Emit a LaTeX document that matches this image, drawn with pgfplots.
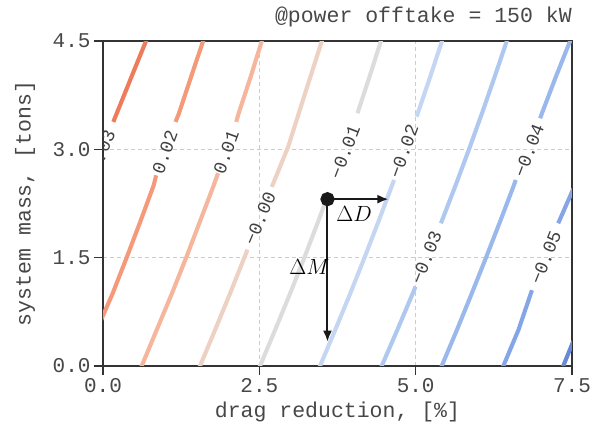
\documentclass[border=0pt]{standalone}
\usepackage{fix-cm}
\usepackage[no-math]{fontspec}
\setmainfont{Liberation Mono}
\usepackage{pgfplots}
\pgfplotsset{compat=1.18}
\usetikzlibrary{arrows.meta}

% contour colours (coolwarm, light)
\definecolor{cpA}{HTML}{EE7B5A}  % 0.03
\definecolor{cpB}{HTML}{F49A7B}  % 0.02
\definecolor{cpC}{HTML}{F5B69D}  % 0.01
\definecolor{cpD}{HTML}{EDD1C3}  % 0.00
\definecolor{cmA}{HTML}{DCDCDC}  % -0.01
\definecolor{cmB}{HTML}{C5D6F2}  % -0.02
\definecolor{cmC}{HTML}{AFC8F0}  % -0.03
\definecolor{cmD}{HTML}{9BB8EC}  % -0.04
\definecolor{cmE}{HTML}{86A5E6}  % -0.05
\definecolor{cmF}{HTML}{6A88D6}  % -0.06

\newcommand{\clab}{\fontsize{18.5}{20}\selectfont}

\begin{document}
\begin{tikzpicture}
\begin{axis}[
  scale only axis, width=469pt, height=325pt,
  xmin=0, xmax=7.5, ymin=0, ymax=4.5,
  xtick={0,2.5,5,7.5}, ytick={0,1.5,3,4.5},
  xtick pos=bottom, ytick pos=left,
  tick align=outside, major tick length=9pt,
  /pgf/number format/fixed, /pgf/number format/fixed zerofill,
  /pgf/number format/precision=1,
  /pgf/number format/assume math mode=true,
  tick label style={font=\fontsize{21}{24}\selectfont, text=black!72},
  label style={font=\fontsize{21.5}{25}\selectfont, text=black!72},
  xlabel={drag reduction, [\%]},
  ylabel={system mass, [tons]},
  xlabel style={at={(axis description cs:0.5,-0.142)}, anchor=center},
  ylabel style={at={(axis description cs:-0.166,0.5)}, anchor=center},
  grid=major,
  grid style={black!20, line width=1pt, dash pattern=on 4pt off 3pt},
  axis line style={black!80, line width=1.5pt},
  tick style={black!80, line width=1.5pt},
  every axis plot/.append style={line width=4.1pt},
]

% 0.03
\addplot[cpA] coordinates {(0.165,3.38) (0.43,3.95) (0.735,4.6)};
% 0.02
\addplot[cpB] coordinates {(-0.10,0.50) (0.152,1.0) (0.378,1.5) (0.597,2.0) (0.81,2.5) (0.85,2.64)};
\addplot[cpB] coordinates {(1.16,3.38) (1.215,3.5) (1.407,4.0) (1.64,4.6)};
% 0.01
\addplot[cpC] coordinates {(0.57,-0.1) (0.619,0) (0.859,0.5) (1.10,1.0) (1.33,1.5) (1.55,2.0) (1.77,2.5) (1.84,2.67)};
\addplot[cpC] coordinates {(2.13,3.38) (2.17,3.5) (2.36,4.0) (2.54,4.5) (2.575,4.6)};
% 0.00
\addplot[cpD] coordinates {(1.50,-0.1) (1.551,0) (1.793,0.5) (2.03,1.0) (2.26,1.5) (2.31,1.61)};
\addplot[cpD] coordinates {(2.70,2.48) (2.963,3.04) (3.23,3.77) (3.50,4.5) (3.535,4.6)};
% -0.01
\addplot[cmA] coordinates {(2.46,-0.1) (2.511,0) (2.753,0.5) (2.99,1.0) (3.22,1.5) (3.44,2.0) (3.57,2.3)};
\addplot[cmA] coordinates {(4.07,3.5) (4.26,4.0) (4.445,4.5) (4.48,4.6)};
% -0.02
\addplot[cmB] coordinates {(3.42,-0.1) (3.47,0) (3.714,0.5) (3.952,1.0) (4.182,1.5) (4.405,2.0) (4.622,2.5) (4.654,2.576)};
\addplot[cmB] coordinates {(5.016,3.453) (5.231,4.0) (5.421,4.5) (5.46,4.6)};
% -0.03
\addplot[cmC] coordinates {(4.40,-0.1) (4.457,0) (4.707,0.5) (4.951,1.0) (4.997,1.098)};
\addplot[cmC] coordinates {(5.404,1.976) (5.638,2.5) (5.853,3.0) (6.061,3.5) (6.262,4.0) (6.457,4.5) (6.495,4.6)};
% -0.04
\addplot[cmD] coordinates {(5.36,-0.1) (5.417,0) (5.66,0.5) (5.895,1.0) (6.125,1.5) (6.35,2.0) (6.57,2.5) (6.60,2.576)};
\addplot[cmD] coordinates {(6.99,3.43) (7.02,3.5) (7.24,4.0) (7.47,4.5) (7.51,4.6)};
% -0.05
\addplot[cmE] coordinates {(6.35,-0.1) (6.402,0) (6.644,0.5) (6.86,1.05)};
\addplot[cmE] coordinates {(7.28,1.976) (7.52,2.45)};
% -0.06
\addplot[cmF] coordinates {(7.31,-0.1) (7.36,0) (7.52,0.34)};

% contour labels
\begin{scope}[every node/.style={font=\clab, text=black!75, inner sep=0pt}]
\node[rotate=67] at (axis cs:-0.02,2.97) {0.03};
\node[rotate=70] at (axis cs:0.99,2.96) {0.02};
\node[rotate=70] at (axis cs:1.97,2.96) {0.01};
\node[rotate=67] at (axis cs:2.51,2.04) {−0.00};
\node[rotate=69] at (axis cs:3.87,2.96) {−0.01};
\node[rotate=70] at (axis cs:4.81,2.97) {−0.02};
\node[rotate=68] at (axis cs:5.17,1.50) {−0.03};
\node[rotate=69] at (axis cs:6.81,2.98) {−0.04};
\node[rotate=68] at (axis cs:7.08,1.50) {−0.05};
\end{scope}

% annotation arrows
\addplot[black!90, line width=2pt, -{Latex[length=11pt,width=9pt]}]
  coordinates {(3.59,2.31) (4.565,2.31)};
\addplot[black!90, line width=2pt, -{Latex[length=11pt,width=9pt]}]
  coordinates {(3.59,2.31) (3.59,0.337)};
\addplot[black!90, only marks, mark=*, mark size=5pt] coordinates {(3.59,2.31)};
\node[font=\fontsize{22}{26}\selectfont] at (axis cs:4.014,2.105) {$\Delta D$};
\node[font=\fontsize{22}{26}\selectfont] at (axis cs:3.30,1.375) {$\Delta M$};
\end{axis}
\node[anchor=base east, font=\fontsize{21.5}{25}\selectfont, text=black!72,
      inner sep=0pt, yshift=19pt] at (current axis.north east) {@power offtake = 150 kW};
\pgfresetboundingbox
\path[use as bounding box] (current axis.south west) ++(-103pt,-68pt) rectangle ++(598pt,434pt);
\end{tikzpicture}
\end{document}
